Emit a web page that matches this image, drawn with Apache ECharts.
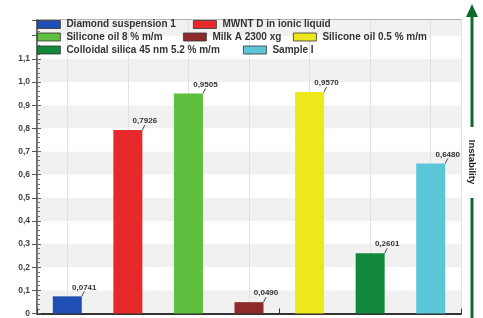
<!DOCTYPE html>
<html><head><meta charset="utf-8">
<script src="https://cdn.jsdelivr.net/npm/echarts@6/dist/echarts.min.js"></script>
<style>html,body{margin:0;padding:0;background:#fff}#c{width:483px;height:318px}</style>
</head><body><div id="c"></div>
<script>
const categories = ['Diamond suspension 1','MWNT D in ionic liquid','Silicone oil 8 % m/m','Milk A 2300 xg','Silicone oil 0.5 % m/m','Colloidal silica 45 nm 5.2 % m/m','Sample I'];
const values = [0.0741, 0.7926, 0.9505, 0.0490, 0.9570, 0.2601, 0.6480];
const colors = ['#1f4fb4','#e8292b','#5fbf3f','#8f2a2a','#ede81c','#12883c','#5ac6d8'];
const yTicks = [0,0.1,0.2,0.3,0.4,0.5,0.6,0.7,0.8,0.9,1.0,1.1];
const legendPos = [[37,19.5],[193,19.5],[37,32],[183,32],[293,32],[37,45],[243,45]];

const fmt = v => v === 0 ? '0' : v.toFixed(1).replace('.', ',');
const halves = [];
categories.forEach(c => { halves.push(c + ' a'); halves.push(c + ' b'); });
const series = categories.map((name,i)=>({
  name, type:'bar', barWidth:29, barGap:'-100%',
  itemStyle:{color:colors[i]},
  data: categories.map((c,j)=> j===i ? values[i] : null),
  label:{show:true, position:'top', distance:6, color:'#333', fontSize:8, fontWeight:'bold', fontFamily:'Liberation Sans',
    formatter: p => p.value.toFixed(4).replace('.', ',')},
  labelLayout:{dx:17, dy:1},
  labelLine:{show:true, lineStyle:{color:'#444', width:1}, length2:0}
}));
const legends = categories.map((name,i)=>({
  data:[name], left:legendPos[i][0], top:legendPos[i][1], padding:0,
  itemWidth:23, itemHeight:8, itemGap:4, icon:'rect',
  itemStyle:{borderColor:'#333', borderWidth:0.8},
  textStyle:{fontSize:10, fontWeight:'bold', color:'#333', fontFamily:'Liberation Sans', lineHeight:10, padding:[0,0,0,1]},
  selectedMode:false
}));
const chart = echarts.init(document.getElementById('c'), null, {renderer:'canvas'});
chart.setOption({
  animation:false,
  legend: legends,
  grid:{left:37, right:22, top:20, bottom:2, show:true, borderColor:'#9a9a9a', borderWidth:1.5, containLabel:false},
  xAxis:[{type:'category', data:categories, boundaryGap:true,
    axisLine:{lineStyle:{color:'#333', width:2}},
    axisTick:{show:true, inside:true, length:5, lineStyle:{color:'#333'}},
    axisLabel:{show:false},
    splitLine:{show:false}
  },{type:'category', data:halves, boundaryGap:true, position:'bottom',
    axisLine:{show:false}, axisTick:{show:false}, axisLabel:{show:false},
    splitLine:{show:true, interval:(i)=> i%2===1, lineStyle:{color:'#e2e2e2'}}
  }],
  yAxis:[{type:'value', min:0, max:1.268, interval:0.1,
    axisLine:{show:true, lineStyle:{color:'#555', width:1.5}},
    axisTick:{show:true, length:5, lineStyle:{color:'#555'}},
    axisLabel:{margin:7, fontSize:8.5, fontWeight:'bold', color:'#444', fontFamily:'Liberation Sans',
      formatter: v => yTicks.some(t=>Math.abs(t-v)<1e-6) ? fmt(v) : ''},
    splitLine:{show:false},
    splitArea:{show:true, areaStyle:{color:['#f1f1f1','#ffffff']}}
  },{type:'value', min:0, max:1.268, interval:0.1, position:'left',
    axisLine:{show:false},
    axisTick:{show:true, inside:true, length:4, lineStyle:{color:'#666'}},
    minorTick:{show:true, splitNumber:5, length:3, lineStyle:{color:'#777'}},
    axisLabel:{show:false}, splitLine:{show:false}
  }],
  series,
  graphic:[
    {type:'line', shape:{x1:472, y1:318, x2:472, y2:198}, style:{stroke:'#0d6a2c', lineWidth:3}},
    {type:'line', shape:{x1:472, y1:127, x2:472, y2:14}, style:{stroke:'#0d6a2c', lineWidth:3}},
    {type:'polygon', shape:{points:[[466,17],[478,17],[472,4]]}, style:{fill:'#0d6a2c'}},
    {type:'text', x:472, y:162, rotation:-Math.PI/2,
      style:{text:'Instability', fontSize:9.5, fontWeight:'bold', fill:'#222', fontFamily:'Liberation Sans', align:'center', verticalAlign:'middle'}}
  ]
});
</script></body></html>
